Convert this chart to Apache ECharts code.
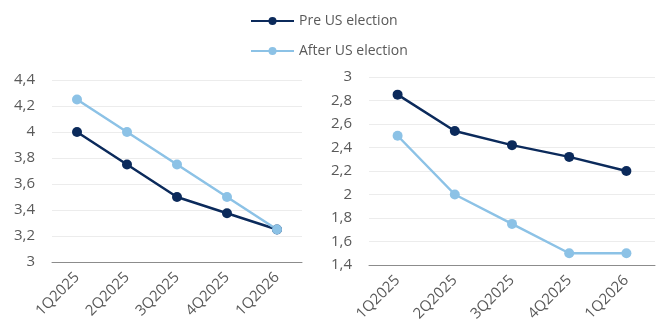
<!DOCTYPE html>
<html>
<head>
<meta charset="utf-8">
<script src="https://cdn.jsdelivr.net/npm/echarts@6/dist/echarts.min.js"></script>
<style>
  html, body { margin: 0; padding: 0; background: #fff; }
  #chart { width: 659px; height: 329px; }
</style>
</head>
<body>
<div id="chart"></div>
<script>
// Quarters shown on both panels
const quarters = ['1Q2025', '2Q2025', '3Q2025', '4Q2025', '1Q2026'];

// Left panel
const leftPre = [4.0, 3.75, 3.5, 3.375, 3.25];
const leftAfter = [4.25, 4.0, 3.75, 3.5, 3.25];

// Right panel
const rightPre = [2.85, 2.54, 2.42, 2.32, 2.2];
const rightAfter = [2.5, 2.0, 1.75, 1.5, 1.5];

const seriesNames = ['Pre US election', 'After US election'];
const colorPre = '#0b2a5b';
const colorAfter = '#8cc2e6';

const font = '"Open Sans", "Noto Sans", sans-serif';
const fmt = v => String(Math.round(v * 10) / 10).replace('.', ',');

function xAxis(gridIndex) {
  return {
    type: 'category',
    gridIndex,
    data: quarters,
    boundaryGap: true,
    axisTick: { show: false },
    axisLine: { lineStyle: { color: '#8c8c8c', width: 1 } },
    axisLabel: {
      rotate: 45, color: '#595959', fontSize: 15, fontFamily: font,
      margin: 13, interval: 0
    }
  };
}
function yAxis(gridIndex, min, max) {
  return {
    type: 'value',
    gridIndex, min, max, interval: 0.2,
    axisLine: { show: false },
    axisTick: { show: false },
    splitLine: { lineStyle: { color: '#ececec', width: 1 } },
    axisLabel: {
      color: '#595959', fontSize: 15, fontFamily: font, margin: 17,
      formatter: fmt
    }
  };
}
function line(name, data, color, idx) {
  return {
    name, type: 'line', data,
    xAxisIndex: idx, yAxisIndex: idx,
    color,
    symbol: 'circle', symbolSize: 10,
    lineStyle: { width: 2.5, color },
    itemStyle: { color },
    animation: false
  };
}

const chart = echarts.init(document.getElementById('chart'));
chart.setOption({
  backgroundColor: '#fff',
  legend: {
    data: seriesNames,
    orient: 'vertical',
    left: 245, top: 9,
    itemWidth: 43, itemHeight: 10, itemGap: 16,
    textStyle: { color: '#595959', fontSize: 14, fontFamily: font }
  },
  grid: [
    { left: 52, width: 250, top: 80, bottom: 67 },
    { left: 369, width: 286, top: 77, bottom: 64 }
  ],
  xAxis: [xAxis(0), xAxis(1)],
  yAxis: [yAxis(0, 3, 4.4), yAxis(1, 1.4, 3)],
  series: [
    line(seriesNames[0], leftPre, colorPre, 0),
    line(seriesNames[1], leftAfter, colorAfter, 0),
    line(seriesNames[0], rightPre, colorPre, 1),
    line(seriesNames[1], rightAfter, colorAfter, 1)
  ]
});
</script>
</body>
</html>
